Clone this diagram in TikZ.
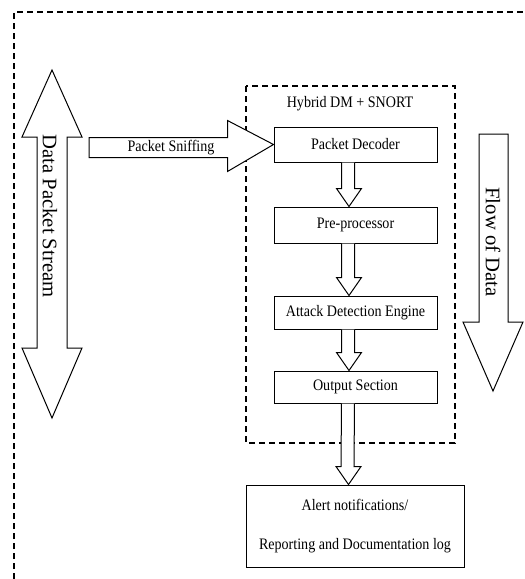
\documentclass[tikz,border=0pt]{standalone}
\usepackage{fontspec}
\setmainfont[FakeStretch=0.88]{Liberation Serif}
\newfontfamily\plainfont{Liberation Serif}
\usetikzlibrary{calc}

% block arrow from the bottom of one box to the top of the next
\newcommand{\blockdown}[2]{%
\draw[blk] ($(#1.south)+(-14,0)$) -- ($(#2.north)+(-14,-18)$) -- ($(#2.north)+(-19,-18)$) -- ($(#2.north)+(-6.5,0)$) -- ($(#2.north)+(6,-18)$) -- ($(#2.north)+(-1,-18)$) -- ($(#1.south)+(-1,0)$);}

\begin{document}
\begin{tikzpicture}[x=0.75pt,y=-0.75pt,
  blk/.style={draw, line width=0.75pt, fill=white},
  frame/.style={draw, line width=0.8pt, dash pattern=on 4.5pt off 3pt},
  txt/.style={font=\fontsize{12}{14.4}\selectfont},
  box/.style={draw, line width=0.75pt, minimum width=122.25pt, inner sep=0pt, txt},
  big/.style={rotate=-90, font=\plainfont\fontsize{15.5}{18}\selectfont}]
\useasboundingbox (0,0) rectangle (525,579);
% outer frame (only left and top edges are seen)
\draw[frame] (14,579) -- (14,12) -- (525,12);
% inner frame
\draw[frame] (246,86) rectangle (455,443);
\node (hyb) at (350,104) [txt] {Hybrid DM + SNORT};
% boxes
\node (dec) at (355.5,144.5) [box, minimum height=26.25pt] {Packet Decoder};
\node (pre) at (355.5,225) [box, minimum height=27pt] {Pre-processor};
\node (ade) at (355.5,312.5) [box, minimum height=24.75pt] {Attack Detection Engine};
\node (out) at (355.5,387) [box, minimum height=24pt] {Output Section};
\node (alert) at (355,526) [box, minimum width=163.5pt, minimum height=61.5pt, align=center] {Alert notifications/\\[14.5pt]Reporting and Documentation log};
% data packet stream
\draw[blk] (52,70) -- (82,137) -- (67,137) -- (67,348) -- (82,348) -- (52,418) -- (22,348) -- (37,348) -- (37,137) -- (22,137) -- cycle;
\node (dps) at (50,216) [big] {Data Packet Stream};
% flow of data
\draw[blk] (479,134) -- (508,134) -- (508,322) -- (523,322) -- (493,391) -- (463,322) -- (479,322) -- cycle;
\node (fod) at (493,242) [big] {Flow of Data};
% packet sniffing
\coordinate (src) at (89,144.5);
\draw[blk] ($(src)+(0,-7)$) -- ($(dec.west)+(-46,-7)$) -- ($(dec.west)+(-46,-24)$) -- (dec.west) -- ($(dec.west)+(-46,27)$) -- ($(dec.west)+(-46,13)$) -- ($(src)+(0,13)$) -- cycle;
\node (snf) at (171,148) [txt] {Packet Sniffing};
% arrows between boxes
\blockdown{dec}{pre}
\blockdown{pre}{ade}
\blockdown{ade}{out}
\blockdown{out}{alert}
\end{tikzpicture}
\end{document}
